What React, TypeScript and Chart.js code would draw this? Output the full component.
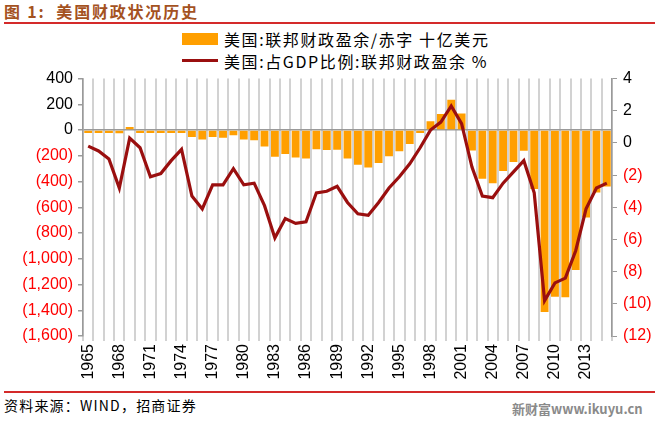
import React, { useEffect, useRef } from "react";
import { Chart, registerables } from "chart.js";

Chart.register(...registerables);

const years = [
  "1965", "1966", "1967", "1968", "1969", "1970", "1971", "1972", "1973", "1974",
  "1975", "1976", "1977", "1978", "1979", "1980", "1981", "1982", "1983", "1984",
  "1985", "1986", "1987", "1988", "1989", "1990", "1991", "1992", "1993", "1994",
  "1995", "1996", "1997", "1998", "1999", "2000", "2001", "2002", "2003", "2004",
  "2005", "2006", "2007", "2008", "2009", "2010", "2011", "2012", "2013", "2014", "2015",
];

// 美国:联邦财政盈余/赤字 十亿美元
const surplus = [
  -1.4, -3.7, -8.6, -25.2, 3.2, -2.8, -23.0, -23.4, -14.9, -6.1,
  -53.2, -73.7, -53.7, -59.2, -40.7, -73.8, -79.0, -128.0, -207.8, -185.4,
  -212.3, -221.2, -149.7, -155.2, -152.6, -221.0, -269.2, -290.3, -255.1, -203.2,
  -164.0, -107.4, -21.9, 69.3, 125.6, 236.2, 128.2, -157.8, -377.6, -412.7,
  -318.3, -248.2, -160.7, -458.6, -1412.7, -1294.4, -1299.6, -1087.0, -679.5, -485.0, -438.5,
];

// 美国:占GDP比例:联邦财政盈余 %
const pctGdp = [
  -0.2, -0.5, -1.0, -2.8, 0.3, -0.3, -2.1, -1.9, -1.1, -0.4,
  -3.3, -4.1, -2.6, -2.6, -1.6, -2.6, -2.5, -3.9, -5.9, -4.7,
  -5.0, -4.9, -3.1, -3.0, -2.7, -3.7, -4.4, -4.5, -3.7, -2.8,
  -2.1, -1.3, -0.3, 0.8, 1.3, 2.3, 1.2, -1.5, -3.3, -3.4,
  -2.5, -1.8, -1.1, -3.1, -9.8, -8.7, -8.4, -6.7, -4.1, -2.8, -2.5,
];

const leftRange = { min: -1600, max: 400, step: 200 };
const rightRange = { min: -12, max: 4, step: 2 };
const labelEvery = 3;

const barLabel = "美国:联邦财政盈余/赤字 十亿美元";
const lineLabel = "美国:占GDP比例:联邦财政盈余 %";

const BAR_COLOR = "#ff9f00";
const LINE_COLOR = "#9a0f0f";
const AXIS_COLOR = "#9a9a9a";
const NUM_FONT = "'Liberation Sans', Arial, sans-serif";
const CJK_FONT = "'Noto Sans CJK SC', 'Liberation Sans', sans-serif";

const fmt = (v: number) => {
  if (v < 0) return "(" + Math.abs(v).toLocaleString("en-US") + ")";
  return v.toLocaleString("en-US");
};

export default function App() {
  const ref = useRef<HTMLCanvasElement | null>(null);

  useEffect(() => {
    if (!ref.current) return;
    const chart = new Chart(ref.current, {
      type: "bar",
      data: {
        labels: years,
        datasets: [
          {
            type: "line",
            label: lineLabel,
            data: pctGdp,
            yAxisID: "y1",
            borderColor: LINE_COLOR,
            backgroundColor: LINE_COLOR,
            borderWidth: 3.2,
            pointRadius: 0,
            tension: 0,
            order: 0,
          } as any,
          {
            type: "bar",
            label: barLabel,
            data: surplus,
            yAxisID: "y",
            backgroundColor: BAR_COLOR,
            borderWidth: 0,
            minBarLength: 3,
            categoryPercentage: 0.8,
            barPercentage: 0.95,
            order: 1,
          } as any,
        ],
      },
      options: {
        responsive: false,
        animation: false,
        layout: { padding: { top: 0, bottom: 0, left: 0, right: 0 } },
        plugins: { legend: { display: false }, tooltip: { enabled: false } },
        scales: {
          x: {
            offset: true,
            grid: {
              offset: true,
              display: true,
              drawOnChartArea: true,
              color: "#d2d2d2",
              lineWidth: 2,
              tickLength: 5,
              tickColor: "#d2d2d2",
            },
            border: { display: false },
            ticks: {
              autoSkip: false,
              minRotation: 90,
              maxRotation: 90,
              padding: 3,
              color: "#000",
              font: { family: NUM_FONT, size: 16 },
              callback: (_v: any, i: number) => (i % labelEvery === 0 ? years[i] : ""),
            },
            afterFit: (s: any) => {
              s.height = 54;
            },
          },
          y: {
            position: "left",
            min: leftRange.min,
            max: leftRange.max,
            grid: {
              color: (c: any) => (c.tick && c.tick.value === 0 ? AXIS_COLOR : "rgba(0,0,0,0)"),
              lineWidth: 1.5,
              tickLength: 5,
              tickColor: AXIS_COLOR,
            },
            border: { display: true, color: AXIS_COLOR, width: 1.5 },
            ticks: {
              stepSize: leftRange.step,
              padding: 5,
              font: { family: NUM_FONT, size: 16 },
              color: (c: any) => (c.tick && c.tick.value < 0 ? "#ff0000" : "#000"),
              callback: (v: any) => fmt(Number(v)),
            },
            afterFit: (s: any) => {
              s.width = 83;
            },
          },
          y1: {
            position: "right",
            min: rightRange.min,
            max: rightRange.max,
            grid: {
              drawOnChartArea: false,
              tickLength: 5,
              color: AXIS_COLOR,
              tickColor: AXIS_COLOR,
            },
            border: { display: true, color: AXIS_COLOR, width: 1.5 },
            ticks: {
              stepSize: rightRange.step,
              padding: 6,
              font: { family: NUM_FONT, size: 16 },
              color: (c: any) => (c.tick && c.tick.value < 0 ? "#ff0000" : "#000"),
              callback: (v: any) => fmt(Number(v)),
            },
            afterFit: (s: any) => {
              s.width = 48;
            },
          },
        },
      } as any,
    });
    return () => chart.destroy();
  }, []);

  return (
    <div
      style={{
        position: "fixed",
        left: 0,
        top: 0,
        width: 660,
        height: 422,
        background: "#fff",
        overflow: "hidden",
        fontFamily: CJK_FONT,
      }}
    >
      <div
        style={{
          position: "absolute",
          left: 4,
          top: 1,
          fontSize: 16,
          fontWeight: 700,
          letterSpacing: "1.8px",
          color: "#a4521f",
          lineHeight: "20px",
          whiteSpace: "nowrap",
        }}
      >
        图 1:&nbsp; 美国财政状况历史
      </div>
      <div style={{ position: "absolute", left: 4, top: 22, width: 651, height: 2, background: "#d42a2a" }} />

      <div style={{ position: "absolute", left: 182, top: 33, width: 36, height: 12, background: BAR_COLOR }} />
      <div
        style={{
          position: "absolute",
          left: 224,
          top: 29,
          fontSize: 16,
          letterSpacing: "1.6px",
          lineHeight: "20px",
          color: "#000",
          whiteSpace: "nowrap",
        }}
      >
        {barLabel}
      </div>
      <div style={{ position: "absolute", left: 182, top: 59, width: 36, height: 3, background: LINE_COLOR }} />
      <div
        style={{
          position: "absolute",
          left: 224,
          top: 51,
          fontSize: 16,
          letterSpacing: "1.6px",
          lineHeight: "20px",
          color: "#000",
          whiteSpace: "nowrap",
        }}
      >
        {lineLabel}
      </div>

      <canvas
        ref={ref}
        width={660}
        height={327}
        style={{ position: "absolute", left: 0, top: 63, width: 660, height: 327 }}
      />

      <div style={{ position: "absolute", left: 4, top: 391, width: 651, height: 2, background: "#d42a2a" }} />
      <div
        style={{
          position: "absolute",
          left: 4,
          top: 396,
          fontSize: 14,
          letterSpacing: "1.2px",
          lineHeight: "18px",
          color: "#000",
          whiteSpace: "nowrap",
        }}
      >
        资料来源：WIND，招商证券
      </div>
      <div
        style={{
          position: "absolute",
          left: 512,
          top: 400,
          fontSize: 13,
          fontWeight: 700,
          lineHeight: "18px",
          color: "#8a8a8a",
          whiteSpace: "nowrap",
        }}
      >
        新财富www.ikuyu.cn
      </div>
    </div>
  );
}
